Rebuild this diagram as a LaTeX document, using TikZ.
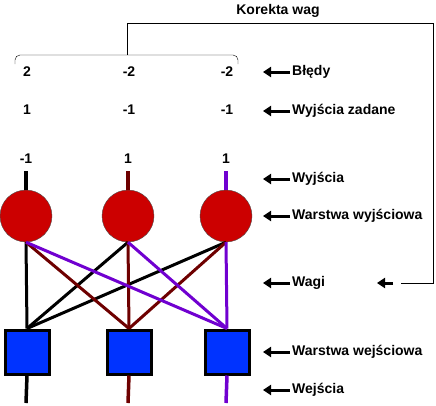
\documentclass[tikz,border=0pt]{standalone}
\usepackage{fontspec}
\setmainfont{Liberation Sans}
\usetikzlibrary{arrows.meta}
\definecolor{wagired}{RGB}{110,0,0}
\definecolor{wagipurple}{RGB}{112,0,208}
\definecolor{neuronred}{RGB}{204,0,0}
\definecolor{inputblue}{RGB}{0,51,255}
\tikzset{
	neuron/.style={
		circle,
		draw=black!70,
		fill=neuronred,
		minimum size=52pt,
		inner sep=0pt
	},
	inbox/.style={
		rectangle,
		draw,
		line width=3pt,
		fill=inputblue,
		minimum size=44pt,
		inner sep=0pt
	},
	lbl/.style={
		font=\bfseries\fontsize{14}{16}\selectfont,
		inner sep=0pt
	},
	tag/.style={lbl, anchor=west},
	pointer/.style={line width=3pt, -{Triangle[length=8pt,width=10pt]}},
	lead/.style={line width=3.5pt},
	wire/.style={line width=3pt}
}

\begin{document}
\begin{tikzpicture}[x=1pt,y=-1pt]
	\useasboundingbox (0,0) rectangle (436,405);

	% neurons, leads and values
	\foreach \i/\x/\c/\e/\z/\y in {1/26/black/2/1/-1, 2/128/wagired/-2/-1/1, 3/226/wagipurple/-2/-1/1} {
		\node[neuron] (out\i) at (\x,216) {};
		\node[inbox] (in\i) at (\x+1,352) {};
		\coordinate (top\i) at (\x,171);
		\coordinate (bot\i) at (\x,403);
		\draw[lead,\c] (top\i) -- (out\i.north);
		\draw[lead,\c] (in\i.south) -- (bot\i);
		\node[lbl] (y\i) at (\x,159) {\y};
		\node[lbl] (d\i) at (\x+1,110) {\z};
		\node[lbl] (b\i) at (\x+1,72) {\e};
	}

	% weights
	\foreach \j/\c in {1/black, 2/wagired, 3/wagipurple}
		\foreach \i in {1,2,3}
			\draw[wire,\c] (out\i.south) -- (in\j.north);

	% feedback
	\coordinate (brl) at (15,64);
	\coordinate (brr) at (238,64);
	\coordinate (brm) at (127,55);
	\coordinate (fbend) at (401,283);
	\draw[rounded corners=5pt] (brl) -- (15,55) -- (238,55) -- (brr);
	\draw (brm) -- (127,23) -- (433,23) -- (433,283) -- (fbend);
	\node[lbl] (korekta) at (278,11) {Korekta wag};

	% legend
	\foreach \n/\y/\t in {bl/72/Błędy, dz/111/Wyjścia zadane, wy/179/Wyjścia, ww/216/Warstwa wyjściowa, wa/283/Wagi, we/352/Warstwa wejściowa, wj/390/Wejścia} {
		\node[tag] (\n) at (292,\y) {\t};
		\coordinate (\n a) at (290,\y);
		\draw[pointer] (\n a) -- ++(-27,0);
	}
	\coordinate (fbarrow) at (393,283);
	\draw[pointer] (fbarrow) -- ++(-16,0);
\end{tikzpicture}
\end{document}
